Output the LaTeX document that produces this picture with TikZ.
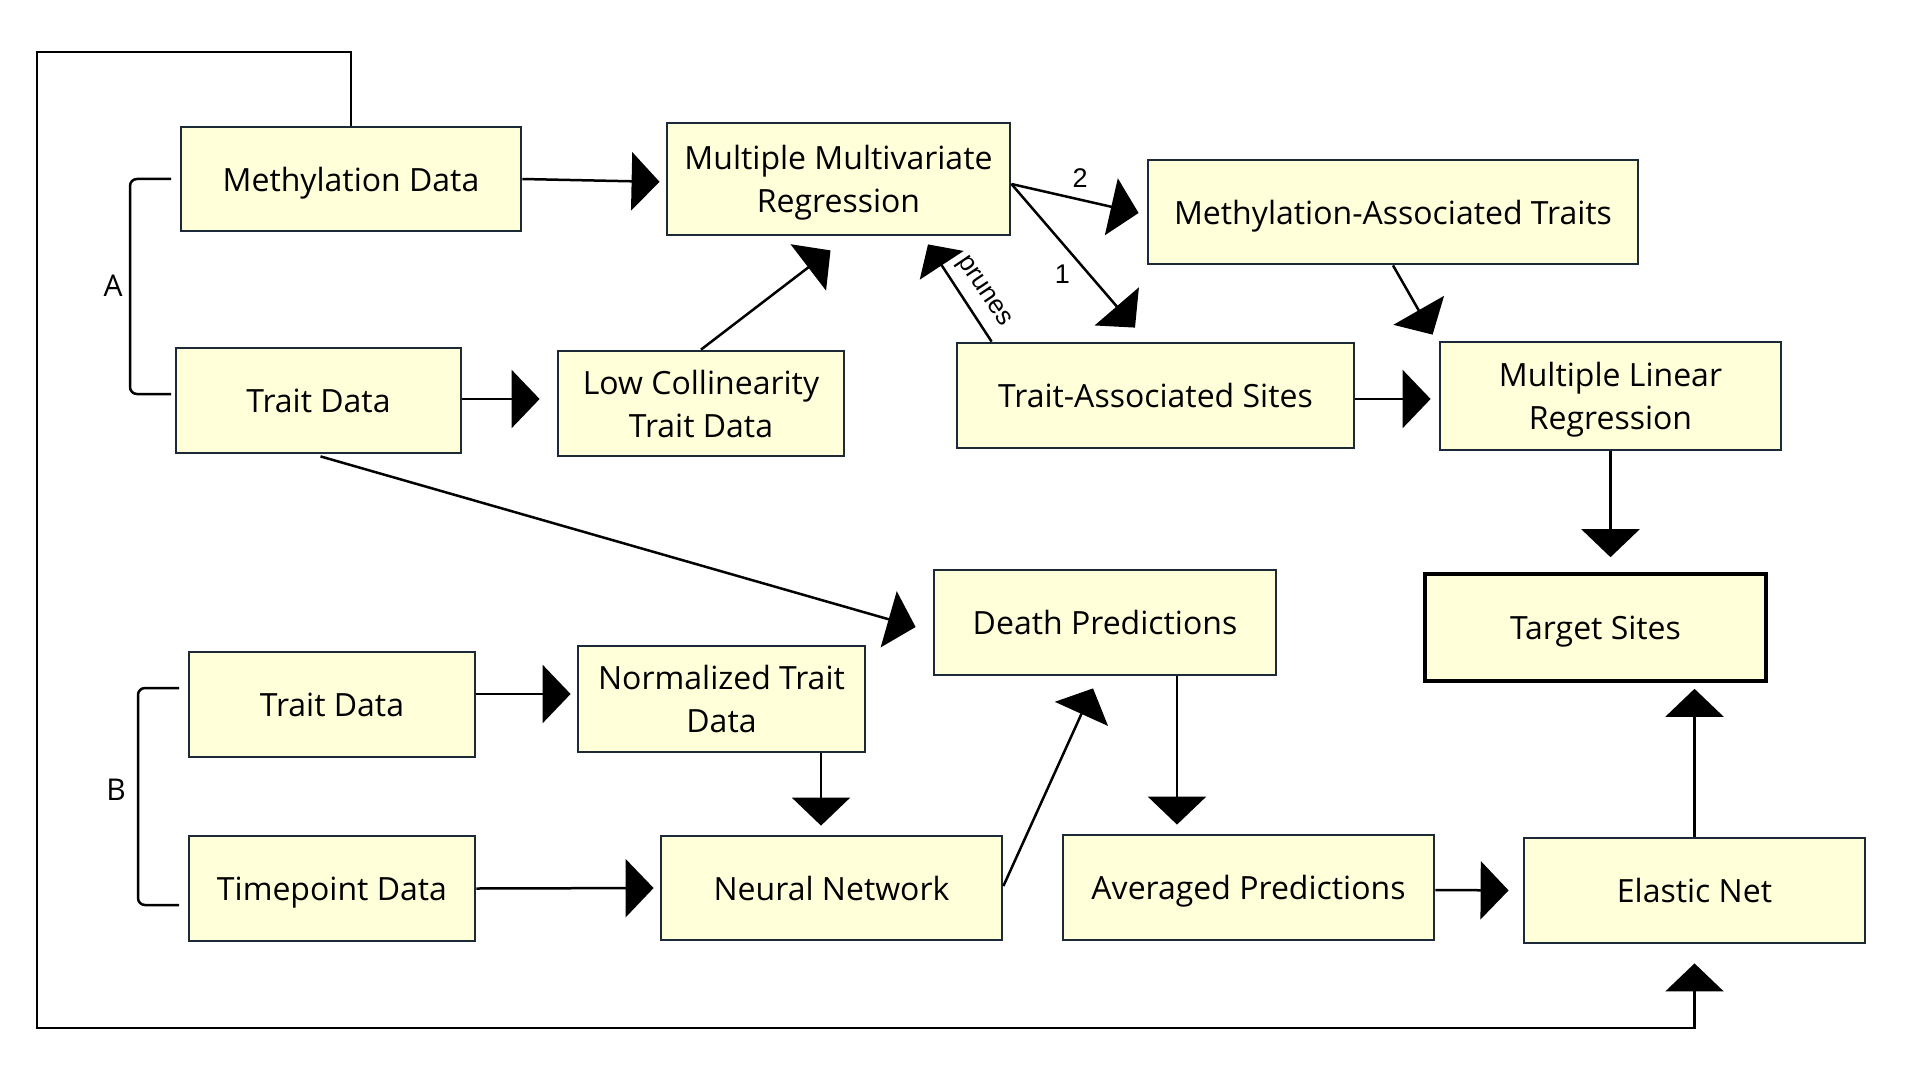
\documentclass[tikz,border=0pt]{standalone}
\usepackage{fontspec}
\setmainfont{Open Sans}
\newfontfamily\labfont{Liberation Sans}
\usetikzlibrary{arrows.meta,calc}
\definecolor{boxfill}{HTML}{FFFFDA}
\definecolor{boxdraw}{HTML}{1B2A36}
\begin{document}
\begin{tikzpicture}[x=1pt,y=-1pt,
  box/.style={draw=boxdraw, fill=boxfill, line width=2.8pt, inner sep=0pt,
    align=center, text depth=0pt, font=\fontsize{32}{43}\selectfont},
  arr/.style={line width=2.5pt, -{Triangle[length=28pt,width=58pt]}},
  lab/.style={font=\labfont\fontsize{27}{30}\selectfont, inner sep=0pt},
  brk/.style={line width=2.5pt, rounded corners=7pt},
  brklab/.style={font=\fontsize{30}{36}\selectfont, inner sep=0pt}]
\useasboundingbox (0,0) rectangle (1913,1075);

% boxes
\node[box, minimum width=340pt, minimum height=104pt] (meth) at (351,179) {Methylation Data};
\node[box, minimum width=343pt, minimum height=112pt] (mmr) at (838.5,179) {Multiple Multivariate\\Regression};
\node[box, minimum width=490pt, minimum height=104pt] (mat) at (1393,212) {Methylation-Associated Traits};
\node[box, minimum width=285pt, minimum height=105pt] (traitA) at (318.5,400.5) {Trait Data};
\node[box, minimum width=286pt, minimum height=105pt] (lowcoll) at (701,403.5) {Low Collinearity\\Trait Data};
\node[box, minimum width=397pt, minimum height=105pt] (tas) at (1155.5,395.5) {Trait-Associated Sites};
\node[box, minimum width=341pt, minimum height=108pt] (mlr) at (1610.5,396) {Multiple Linear\\Regression};
\node[box, minimum width=342pt, minimum height=105pt] (death) at (1105,622.5) {Death Predictions};
\node[box, draw=black, line width=3.6pt, minimum width=341pt, minimum height=107pt] (target) at (1595.5,627.5) {Target Sites};
\node[box, minimum width=286pt, minimum height=105pt] (traitB) at (332,704.5) {Trait Data};
\node[box, minimum width=287pt, minimum height=106pt] (norm) at (721.5,699) {Normalized Trait\\Data};
\node[box, minimum width=286pt, minimum height=105pt] (tp) at (332,888.5) {Timepoint Data};
\node[box, minimum width=341pt, minimum height=104pt] (nn) at (831.5,888) {Neural Network};
\node[box, minimum width=371pt, minimum height=105pt] (avg) at (1248.5,887.5) {Averaged Predictions};
\node[box, minimum width=341pt, minimum height=105pt] (elastic) at (1694.5,890.5) {Elastic Net};

% brackets
\draw[brk] (171,179) -- (130,179) -- (130,394) -- (171,394);
\node[brklab] (labA) at (113,286) {A};
\draw[brk] (179,688) -- (138,688) -- (138,905) -- (179,905);
\node[brklab] (labB) at (116,790) {B};

% helper coordinates
\coordinate (ds) at ($(death.south)+(72,0)$);
\coordinate (ns) at ($(norm.south)+(99.5,0)$);
\coordinate (mmrR) at ($(mmr.east)+(0,5)$);
\coordinate (tasT) at ($(tas.north west)+(36,0)$);

% connectors
\draw[arr, shorten >=6pt] (meth.east) -- ($(mmr.west)+(0,3)$);
\draw[arr] (lowcoll.north) -- ($(mmr.south)+(-8,14)$);
\draw[arr, shorten >=17pt] ($(traitA.east)+(0,-1.5)$) -- ($(lowcoll.west)+(0,-4.5)$);
\draw[arr] ($(traitA.south)+(2,2)$) -- ($(death.west)+(-17,4.5)$);
\draw[arr] (mmrR) -- ($(mat.west)+(-8,1)$)
  node[lab, pos=0.54, yshift=22pt] (lab2) {2};
\draw[arr] (mmrR) -- ($(tas.north)+(-20.5,-14)$)
  node[lab, pos=0.63, xshift=-27pt] (lab1) {1};
\draw[arr, -{Triangle[length=25pt,width=52pt]}] (tasT) -- ($(mmr.south)+(89.5,8)$);
\node[lab, font=\labfont\fontsize{26}{30}\selectfont, rotate=-56] (labp) at (983,292) {prunes};
\draw[arr] (mat.south) -- ($(mlr.north west)+(-6,-6)$);
\draw[arr, shorten >=8pt] ($(tas.east)+(0,3.5)$) -- ($(mlr.west)+(0,3)$);
\draw[arr, shorten >=15pt] (mlr.south) -- (mlr.south |- target.north);
\draw[arr, shorten >=9pt] (ds) -- (ds |- avg.north);
\draw[arr, shorten >=9pt] (ns) -- (ns |- nn.north);
\draw[arr, shorten >=6pt] ($(traitB.east)+(0,-10.5)$) -- ($(norm.west)+(0,-5)$);
\draw[arr, shorten >=6pt] (tp.east) -- (nn.west);
\draw[arr] ($(nn.east)+(0,-2)$) -- ($(death.south)+(-12,12)$);
\draw[arr, shorten >=14pt] ($(avg.east)+(0,2.5)$) -- (elastic.west);
\draw[arr, shorten >=6pt] (elastic.north) -- (elastic.north |- target.south);

% feedback loop
\coordinate (lt) at (37,52);
\coordinate (lb) at (37,1028);
\draw[arr, shorten >=19pt] (meth.north) |- (lt) -- (lb) -| (elastic.south);
\end{tikzpicture}
\end{document}
